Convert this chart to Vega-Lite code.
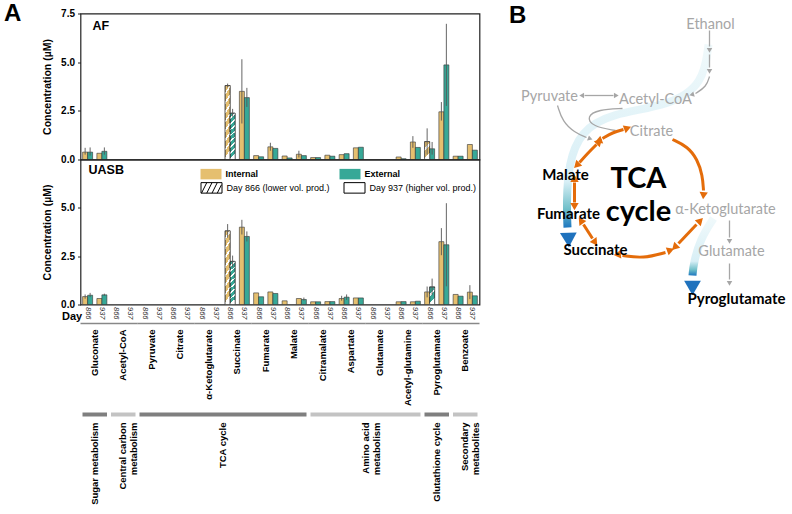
{
"$schema":"https://vega.github.io/schema/vega-lite/v6.json",
"background":"white",
"padding":{"left":3.5,"top":1.5,"right":0,"bottom":0},
"autosize":{"type":"pad"},
"config":{"view":{"stroke":null},"font":"Liberation Sans","title":{"font":"Liberation Sans","color":"#000"},"axis":{"labelFont":"Liberation Sans","titleFont":"Liberation Sans"},"legend":{"labelFont":"Liberation Sans"}},
"title":{"text":"A","anchor":"start","frame":"group","dx":-76.5,"offset":-22.8,"baseline":"top","fontSize":24,"fontWeight":"bold"},
"columns":2,
"spacing":{"row":0,"column":21},
"bounds":"flush",
"resolve":{"scale":{"fill":"independent","shape":"independent","color":"independent"}},
"datasets":{
"bars":[
{"panel":"AF","metabolite":"Gluconate","day":"866","type":"Internal","value":0.38,"lo":0.25,"hi":0.6},
{"panel":"AF","metabolite":"Gluconate","day":"866","type":"External","value":0.38,"lo":0.2,"hi":0.62},
{"panel":"AF","metabolite":"Gluconate","day":"937","type":"Internal","value":0.32},
{"panel":"AF","metabolite":"Gluconate","day":"937","type":"External","value":0.42,"lo":0.25,"hi":0.62},
{"panel":"AF","metabolite":"Succinate","day":"866","type":"Internal","value":3.8,"lo":3.7,"hi":3.9},
{"panel":"AF","metabolite":"Succinate","day":"866","type":"External","value":2.38,"lo":2.2,"hi":2.6},
{"panel":"AF","metabolite":"Succinate","day":"937","type":"Internal","value":3.5,"lo":1.85,"hi":5.15},
{"panel":"AF","metabolite":"Succinate","day":"937","type":"External","value":3.18,"lo":2.7,"hi":3.68},
{"panel":"AF","metabolite":"Fumarate","day":"866","type":"Internal","value":0.2},
{"panel":"AF","metabolite":"Fumarate","day":"866","type":"External","value":0.14},
{"panel":"AF","metabolite":"Fumarate","day":"937","type":"Internal","value":0.65,"lo":0.45,"hi":0.86},
{"panel":"AF","metabolite":"Fumarate","day":"937","type":"External","value":0.57},
{"panel":"AF","metabolite":"Malate","day":"866","type":"Internal","value":0.18},
{"panel":"AF","metabolite":"Malate","day":"866","type":"External","value":0.08},
{"panel":"AF","metabolite":"Malate","day":"937","type":"Internal","value":0.27,"lo":0.1,"hi":0.45},
{"panel":"AF","metabolite":"Malate","day":"937","type":"External","value":0.2},
{"panel":"AF","metabolite":"Citramalate","day":"866","type":"Internal","value":0.1},
{"panel":"AF","metabolite":"Citramalate","day":"866","type":"External","value":0.1},
{"panel":"AF","metabolite":"Citramalate","day":"937","type":"Internal","value":0.22},
{"panel":"AF","metabolite":"Citramalate","day":"937","type":"External","value":0.17},
{"panel":"AF","metabolite":"Aspartate","day":"866","type":"Internal","value":0.25},
{"panel":"AF","metabolite":"Aspartate","day":"866","type":"External","value":0.3},
{"panel":"AF","metabolite":"Aspartate","day":"937","type":"Internal","value":0.6},
{"panel":"AF","metabolite":"Aspartate","day":"937","type":"External","value":0.63},
{"panel":"AF","metabolite":"Acetyl-glutamine","day":"866","type":"Internal","value":0.13},
{"panel":"AF","metabolite":"Acetyl-glutamine","day":"866","type":"External","value":0.04},
{"panel":"AF","metabolite":"Acetyl-glutamine","day":"937","type":"Internal","value":0.9,"lo":0.6,"hi":1.2},
{"panel":"AF","metabolite":"Acetyl-glutamine","day":"937","type":"External","value":0.62},
{"panel":"AF","metabolite":"Pyroglutamate","day":"866","type":"Internal","value":0.92,"lo":0.25,"hi":1.6},
{"panel":"AF","metabolite":"Pyroglutamate","day":"866","type":"External","value":0.55,"lo":0.25,"hi":0.9},
{"panel":"AF","metabolite":"Pyroglutamate","day":"937","type":"Internal","value":2.45,"lo":2.0,"hi":2.95},
{"panel":"AF","metabolite":"Pyroglutamate","day":"937","type":"External","value":4.86,"lo":2.75,"hi":6.97},
{"panel":"AF","metabolite":"Benzoate","day":"866","type":"Internal","value":0.17},
{"panel":"AF","metabolite":"Benzoate","day":"866","type":"External","value":0.17},
{"panel":"AF","metabolite":"Benzoate","day":"937","type":"Internal","value":0.77},
{"panel":"AF","metabolite":"Benzoate","day":"937","type":"External","value":0.48},
{"panel":"UASB","metabolite":"Gluconate","day":"866","type":"Internal","value":0.41,"lo":0.3,"hi":0.52},
{"panel":"UASB","metabolite":"Gluconate","day":"866","type":"External","value":0.48,"lo":0.38,"hi":0.6},
{"panel":"UASB","metabolite":"Gluconate","day":"937","type":"Internal","value":0.31},
{"panel":"UASB","metabolite":"Gluconate","day":"937","type":"External","value":0.5,"lo":0.45,"hi":0.56},
{"panel":"UASB","metabolite":"Succinate","day":"866","type":"Internal","value":3.81,"lo":3.46,"hi":4.16},
{"panel":"UASB","metabolite":"Succinate","day":"866","type":"External","value":2.23,"lo":1.93,"hi":2.53},
{"panel":"UASB","metabolite":"Succinate","day":"937","type":"Internal","value":4.0,"lo":3.62,"hi":4.38},
{"panel":"UASB","metabolite":"Succinate","day":"937","type":"External","value":3.52,"lo":3.26,"hi":3.78},
{"panel":"UASB","metabolite":"Fumarate","day":"866","type":"Internal","value":0.6},
{"panel":"UASB","metabolite":"Fumarate","day":"866","type":"External","value":0.4},
{"panel":"UASB","metabolite":"Fumarate","day":"937","type":"Internal","value":0.65},
{"panel":"UASB","metabolite":"Fumarate","day":"937","type":"External","value":0.57},
{"panel":"UASB","metabolite":"Malate","day":"866","type":"Internal","value":0.19},
{"panel":"UASB","metabolite":"Malate","day":"937","type":"Internal","value":0.31},
{"panel":"UASB","metabolite":"Malate","day":"937","type":"External","value":0.26,"lo":0.2,"hi":0.36},
{"panel":"UASB","metabolite":"Citramalate","day":"866","type":"Internal","value":0.14},
{"panel":"UASB","metabolite":"Citramalate","day":"866","type":"External","value":0.14},
{"panel":"UASB","metabolite":"Citramalate","day":"937","type":"Internal","value":0.15},
{"panel":"UASB","metabolite":"Citramalate","day":"937","type":"External","value":0.15},
{"panel":"UASB","metabolite":"Aspartate","day":"866","type":"Internal","value":0.31,"lo":0.2,"hi":0.45},
{"panel":"UASB","metabolite":"Aspartate","day":"866","type":"External","value":0.38,"lo":0.24,"hi":0.52},
{"panel":"UASB","metabolite":"Aspartate","day":"937","type":"Internal","value":0.34},
{"panel":"UASB","metabolite":"Aspartate","day":"937","type":"External","value":0.34},
{"panel":"UASB","metabolite":"Acetyl-glutamine","day":"866","type":"Internal","value":0.14},
{"panel":"UASB","metabolite":"Acetyl-glutamine","day":"866","type":"External","value":0.15},
{"panel":"UASB","metabolite":"Acetyl-glutamine","day":"937","type":"Internal","value":0.14},
{"panel":"UASB","metabolite":"Acetyl-glutamine","day":"937","type":"External","value":0.17},
{"panel":"UASB","metabolite":"Pyroglutamate","day":"866","type":"Internal","value":0.65,"lo":0.37,"hi":0.93},
{"panel":"UASB","metabolite":"Pyroglutamate","day":"866","type":"External","value":0.91,"lo":0.48,"hi":1.34},
{"panel":"UASB","metabolite":"Pyroglutamate","day":"937","type":"Internal","value":3.25,"lo":2.55,"hi":3.95},
{"panel":"UASB","metabolite":"Pyroglutamate","day":"937","type":"External","value":3.09,"lo":0.94,"hi":5.24},
{"panel":"UASB","metabolite":"Benzoate","day":"866","type":"Internal","value":0.52},
{"panel":"UASB","metabolite":"Benzoate","day":"866","type":"External","value":0.43},
{"panel":"UASB","metabolite":"Benzoate","day":"937","type":"Internal","value":0.64,"lo":0.28,"hi":1.0},
{"panel":"UASB","metabolite":"Benzoate","day":"937","type":"External","value":0.45}
],
"metabs":[{"name":"Gluconate"},{"name":"Acetyl-CoA"},{"name":"Pyruvate"},{"name":"Citrate"},{"name":"α-Ketoglutarate"},{"name":"Succinate"},{"name":"Fumarate"},{"name":"Malate"},{"name":"Citramalate"},{"name":"Aspartate"},{"name":"Glutamate"},{"name":"Acetyl-glutamine"},{"name":"Pyroglutamate"},{"name":"Benzoate"}],
"cats":[
{"category":"Sugar metabolism","label":"Sugar metabolism","start":0,"end":1},
{"category":"Central carbon metabolism","label":"Central carbon\nmetabolism","start":1,"end":2},
{"category":"TCA cycle","label":"TCA cycle","start":2,"end":8},
{"category":"Amino acid metabolism","label":"Amino acid\nmetabolism","start":8,"end":12},
{"category":"Glutathione cycle","label":"Glutathione cycle","start":12,"end":13},
{"category":"Secondary metabolites","label":"Secondary\nmetabolites","start":13,"end":14}
],
"grayText":[{"x":210,"y":11,"t":"Ethanol"},{"x":49,"y":83,"t":"Pyruvate"},{"x":155,"y":86,"t":"Acetyl-CoA"},{"x":151,"y":118,"t":"Citrate"},{"x":225,"y":196,"t":"α-Ketoglutarate"},{"x":231,"y":238,"t":"Glutamate"}],
"blackText":[{"x":65,"y":161,"t":"Malate"},{"x":68,"y":200,"t":"Fumarate"},{"x":95,"y":236,"t":"Succinate"},{"x":236,"y":285,"t":"Pyroglutamate"}],
"bigText":[{"x":138,"y":165,"t":"TCA"},{"x":138,"y":198,"t":"cycle"}],
"orangeLines":[
{"id":"o1","seq":1,"x":172,"y":126},{"id":"o1","seq":2,"x":187,"y":133},{"id":"o1","seq":3,"x":197,"y":146},{"id":"o1","seq":4,"x":202,"y":162},{"id":"o1","seq":5,"x":203,"y":177},
{"id":"o2","seq":1,"x":102,"y":125},{"id":"o2","seq":2,"x":112,"y":119},{"id":"o2","seq":3,"x":123,"y":116},
{"id":"o3","seq":1,"x":96,"y":131},{"id":"o3","seq":2,"x":87,"y":140},{"id":"o3","seq":3,"x":79,"y":149},
{"id":"o4","seq":1,"x":74,"y":169},{"id":"o4","seq":2,"x":74,"y":189},
{"id":"o5","seq":1,"x":83,"y":211},{"id":"o5","seq":2,"x":92,"y":225},
{"id":"o6","seq":1,"x":122,"y":242},{"id":"o6","seq":2,"x":143,"y":245},{"id":"o6","seq":3,"x":165,"y":239},
{"id":"o7","seq":1,"x":178,"y":230},{"id":"o7","seq":2,"x":196,"y":211}
],
"orangeHeads":[
{"x":203,"y":181,"angle":185},
{"x":126,"y":115,"angle":70},{"x":99,"y":127,"angle":250},
{"x":98,"y":129,"angle":45},{"x":77,"y":151,"angle":225},
{"x":74,"y":166,"angle":0},{"x":74,"y":192,"angle":180},
{"x":81,"y":208,"angle":325},{"x":94,"y":228,"angle":145},
{"x":118,"y":241,"angle":265},{"x":169,"y":237,"angle":70},
{"x":175,"y":233,"angle":225},{"x":199,"y":208,"angle":45}
],
"grayLines":[
{"id":"g1","seq":1,"x":209,"y":17},{"id":"g1","seq":2,"x":209,"y":33},
{"id":"g2","seq":1,"x":209,"y":41},{"id":"g2","seq":2,"x":209,"y":54},
{"id":"g3","seq":1,"x":209,"y":63},{"id":"g3","seq":2,"x":206,"y":73},{"id":"g3","seq":3,"x":195,"y":80},
{"id":"g4","seq":1,"x":84,"y":82},{"id":"g4","seq":2,"x":113,"y":82},
{"id":"g5","seq":1,"x":122,"y":95},{"id":"g5","seq":2,"x":98,"y":96},{"id":"g5","seq":3,"x":86,"y":103},{"id":"g5","seq":4,"x":92,"y":113},{"id":"g5","seq":5,"x":115,"y":117},
{"id":"g6","seq":1,"x":57,"y":92},{"id":"g6","seq":2,"x":62,"y":108},{"id":"g6","seq":3,"x":74,"y":119},{"id":"g6","seq":4,"x":86,"y":124},
{"id":"g7","seq":1,"x":229,"y":207},{"id":"g7","seq":2,"x":229,"y":224},
{"id":"g8","seq":1,"x":229,"y":250},{"id":"g8","seq":2,"x":229,"y":266}
],
"grayHeads":[
{"x":209,"y":36,"angle":180},{"x":209,"y":57,"angle":180},{"x":192,"y":81,"angle":255},
{"x":82,"y":82,"angle":270},{"x":115,"y":82,"angle":90},{"x":89,"y":125,"angle":110},
{"x":229,"y":227,"angle":180},{"x":229,"y":269,"angle":180}
],
"blueLines":[
{"id":"b1","seq":1,"x":208,"y":31},{"id":"b1","seq":2,"x":203,"y":70},{"id":"b1","seq":3,"x":170,"y":92},{"id":"b1","seq":4,"x":110,"y":100},{"id":"b1","seq":5,"x":80,"y":118},{"id":"b1","seq":6,"x":68,"y":150},{"id":"b1","seq":7,"x":66,"y":190},{"id":"b1","seq":8,"x":67,"y":214},
{"id":"b2","seq":1,"x":213,"y":205},{"id":"b2","seq":2,"x":200,"y":225},{"id":"b2","seq":3,"x":193,"y":250},{"id":"b2","seq":4,"x":192,"y":262}
],
"blueHeads":[{"x":68,"y":224,"angle":178},{"x":192,"y":272,"angle":180}]
},
"concat":[
{
"width":399,"height":146,
"view":{"stroke":"#222","strokeWidth":1.2},
"title":{"text":"AF","anchor":"start","frame":"group","dx":12,"offset":-24,"baseline":"top","fontSize":12.5,"fontWeight":"bold"},
"data":{"name":"bars"},
"transform":[{"filter":"datum.panel == 'AF'"},{"calculate":"datum.metabolite + '|' + datum.day","as":"slot"}],
"encoding":{
"x":{"field":"slot","type":"nominal","sort":null,"scale":{"domain":["Gluconate|866","Gluconate|937","Acetyl-CoA|866","Acetyl-CoA|937","Pyruvate|866","Pyruvate|937","Citrate|866","Citrate|937","α-Ketoglutarate|866","α-Ketoglutarate|937","Succinate|866","Succinate|937","Fumarate|866","Fumarate|937","Malate|866","Malate|937","Citramalate|866","Citramalate|937","Aspartate|866","Aspartate|937","Glutamate|866","Glutamate|937","Acetyl-glutamine|866","Acetyl-glutamine|937","Pyroglutamate|866","Pyroglutamate|937","Benzoate|866","Benzoate|937"],"paddingInner":0.3,"paddingOuter":0.15},"axis":null},
"xOffset":{"field":"type","type":"nominal","scale":{"domain":["Internal","External"],"paddingInner":0,"paddingOuter":0}}
},
"layer":[
{"mark":{"type":"bar","stroke":"#333","strokeWidth":0.6},
"encoding":{"y":{"field":"value","type":"quantitative","scale":{"domain":[0,7.5],"nice":false},"axis":{"values":[0,2.5,5,7.5],"format":".1f","title":"Concentration (µM)","titleFontSize":10.5,"titleFontWeight":"bold","titleColor":"#000","titlePadding":8,"labelFontSize":10,"labelFontWeight":"bold","labelColor":"#000","tickSize":3,"tickColor":"#222","labelPadding":3,"domain":false,"grid":false}},
"fill":{"field":"type","type":"nominal","scale":{"domain":["Internal","External"],"range":["#E5BF6F","#37A897"]},"legend":null}}},
{"transform":[{"filter":"datum.day == '866' && datum.value >= 2"}],
"mark":{"type":"bar","stroke":"#333","strokeWidth":0.6,"fill":{"gradient":"linear","x1":0,"y1":0,"x2":0.1,"y2":1,"stops":[{"offset":0,"color":"rgba(255,255,255,0)"},{"offset":0.0875,"color":"rgba(255,255,255,0)"},{"offset":0.0875,"color":"#fff"},{"offset":0.125,"color":"#fff"},{"offset":0.125,"color":"rgba(255,255,255,0)"},{"offset":0.2125,"color":"rgba(255,255,255,0)"},{"offset":0.2125,"color":"#fff"},{"offset":0.25,"color":"#fff"},{"offset":0.25,"color":"rgba(255,255,255,0)"},{"offset":0.3375,"color":"rgba(255,255,255,0)"},{"offset":0.3375,"color":"#fff"},{"offset":0.375,"color":"#fff"},{"offset":0.375,"color":"rgba(255,255,255,0)"},{"offset":0.4625,"color":"rgba(255,255,255,0)"},{"offset":0.4625,"color":"#fff"},{"offset":0.5,"color":"#fff"},{"offset":0.5,"color":"rgba(255,255,255,0)"},{"offset":0.5875,"color":"rgba(255,255,255,0)"},{"offset":0.5875,"color":"#fff"},{"offset":0.625,"color":"#fff"},{"offset":0.625,"color":"rgba(255,255,255,0)"},{"offset":0.7125,"color":"rgba(255,255,255,0)"},{"offset":0.7125,"color":"#fff"},{"offset":0.75,"color":"#fff"},{"offset":0.75,"color":"rgba(255,255,255,0)"},{"offset":0.8375,"color":"rgba(255,255,255,0)"},{"offset":0.8375,"color":"#fff"},{"offset":0.875,"color":"#fff"},{"offset":0.875,"color":"rgba(255,255,255,0)"},{"offset":0.9625,"color":"rgba(255,255,255,0)"},{"offset":0.9625,"color":"#fff"},{"offset":1,"color":"#fff"}]}},
"encoding":{"y":{"field":"value","type":"quantitative"}}},
{"transform":[{"filter":"datum.day == '866' && datum.value >= 0.85 && datum.value < 2"}],
"mark":{"type":"bar","stroke":"#333","strokeWidth":0.6,"fill":{"gradient":"linear","x1":0,"y1":0,"x2":0.3,"y2":1,"stops":[{"offset":0,"color":"rgba(255,255,255,0)"},{"offset":0.35,"color":"rgba(255,255,255,0)"},{"offset":0.35,"color":"#fff"},{"offset":0.5,"color":"#fff"},{"offset":0.5,"color":"rgba(255,255,255,0)"},{"offset":0.85,"color":"rgba(255,255,255,0)"},{"offset":0.85,"color":"#fff"},{"offset":1,"color":"#fff"}]}},
"encoding":{"y":{"field":"value","type":"quantitative"}}},
{"transform":[{"filter":"isValid(datum.lo)"}],
"mark":{"type":"rule","color":"#555","strokeWidth":0.9},
"encoding":{"y":{"field":"lo","type":"quantitative"},"y2":{"field":"hi"}}}
]
},
{
"width":292,"height":146,
"title":{"text":"B","anchor":"start","frame":"group","dx":8.5,"offset":-14,"baseline":"top","fontSize":24,"fontWeight":"bold"},
"encoding":{"x":{"field":"x","type":"quantitative","scale":{"domain":[0,292],"nice":false,"zero":false},"axis":null},"y":{"field":"y","type":"quantitative","scale":{"domain":[0,146],"nice":false,"zero":false,"reverse":true},"axis":null}},
"layer":[
{"data":{"name":"blueLines"},"mark":{"type":"line","interpolate":"basis","strokeWidth":8,"strokeCap":"butt","stroke":{"gradient":"linear","x1":0,"y1":0,"x2":0,"y2":1,"stops":[{"offset":0,"color":"#F0F9FB"},{"offset":0.75,"color":"#D8EFF6"},{"offset":0.9,"color":"#6FBFC9"},{"offset":1,"color":"#1F78C0"}]}},"encoding":{"detail":{"field":"id"},"order":{"field":"seq"}}},
{"data":{"name":"blueHeads"},"mark":{"type":"point","shape":"triangle","filled":true,"size":280,"color":"#1F72BD","opacity":1},"encoding":{"angle":{"field":"angle","type":"quantitative","scale":null}}},
{"data":{"name":"grayLines"},"mark":{"type":"line","interpolate":"basis","strokeWidth":1.3,"color":"#A6A6A6"},"encoding":{"detail":{"field":"id"},"order":{"field":"seq"}}},
{"data":{"name":"grayHeads"},"mark":{"type":"point","shape":"triangle","filled":true,"size":30,"color":"#A6A6A6","opacity":1},"encoding":{"angle":{"field":"angle","type":"quantitative","scale":null}}},
{"data":{"name":"orangeLines"},"mark":{"type":"line","interpolate":"basis","strokeWidth":3,"color":"#E46C0A"},"encoding":{"detail":{"field":"id"},"order":{"field":"seq"}}},
{"data":{"name":"orangeHeads"},"mark":{"type":"point","shape":"triangle","filled":true,"size":70,"color":"#E46C0A","opacity":1},"encoding":{"angle":{"field":"angle","type":"quantitative","scale":null}}},
{"data":{"name":"grayText"},"mark":{"type":"text","font":"Lato","fontSize":14.5,"color":"#A6A6A6","align":"center","baseline":"middle"},"encoding":{"text":{"field":"t"}}},
{"data":{"name":"blackText"},"mark":{"type":"text","font":"Lato","fontSize":15,"fontWeight":"bold","color":"#000","align":"center","baseline":"middle"},"encoding":{"text":{"field":"t"}}},
{"data":{"name":"bigText"},"mark":{"type":"text","font":"Lato","fontSize":29,"fontWeight":"bold","color":"#000","align":"center","baseline":"middle"},"encoding":{"text":{"field":"t"}}}
]
},
{
"width":399,"height":145,
"view":{"stroke":"#222","strokeWidth":1.2},
"title":{"text":"UASB","anchor":"start","frame":"group","dx":8,"offset":-17,"baseline":"top","fontSize":12.5,"fontWeight":"bold"},
"data":{"name":"bars"},
"transform":[{"filter":"datum.panel == 'UASB'"},{"calculate":"datum.metabolite + '|' + datum.day","as":"slot"}],
"encoding":{
"x":{"field":"slot","type":"nominal","sort":null,"scale":{"domain":["Gluconate|866","Gluconate|937","Acetyl-CoA|866","Acetyl-CoA|937","Pyruvate|866","Pyruvate|937","Citrate|866","Citrate|937","α-Ketoglutarate|866","α-Ketoglutarate|937","Succinate|866","Succinate|937","Fumarate|866","Fumarate|937","Malate|866","Malate|937","Citramalate|866","Citramalate|937","Aspartate|866","Aspartate|937","Glutamate|866","Glutamate|937","Acetyl-glutamine|866","Acetyl-glutamine|937","Pyroglutamate|866","Pyroglutamate|937","Benzoate|866","Benzoate|937"],"paddingInner":0.3,"paddingOuter":0.15},
"axis":{"orient":"bottom","labelExpr":"split(datum.label, '|')[1]","labelAngle":90,"labelAlign":"left","labelBaseline":"middle","labelFontSize":7.5,"labelFontStyle":"italic","labelColor":"#333","labelOverlap":false,"labelPadding":2,"ticks":false,"domain":false,"title":"Day","titleX":-19,"titleY":15,"titleAlign":"left","titleAngle":0,"titleBaseline":"alphabetic","titleFontSize":11,"titleFontWeight":"bold","titleColor":"#000"}},
"xOffset":{"field":"type","type":"nominal","scale":{"domain":["Internal","External"],"paddingInner":0,"paddingOuter":0}}
},
"layer":[
{"mark":{"type":"bar","stroke":"#333","strokeWidth":0.6},
"encoding":{"y":{"field":"value","type":"quantitative","scale":{"domain":[0,7.5],"nice":false},"axis":{"values":[0,2.5,5],"format":".1f","title":"Concentration (µM)","titleFontSize":10.5,"titleFontWeight":"bold","titleColor":"#000","titlePadding":8,"labelFontSize":10,"labelFontWeight":"bold","labelColor":"#000","tickSize":3,"tickColor":"#222","labelPadding":3,"domain":false,"grid":false}},
"fill":{"field":"type","type":"nominal","scale":{"domain":["Internal","External"],"range":["#E5BF6F","#37A897"]},
"legend":{"orient":"none","legendX":120,"legendY":4,"direction":"horizontal","columns":2,"columnPadding":81,"title":null,"padding":0,"symbolType":"M-1,-0.5H1V0.5H-1Z","symbolSize":441,"symbolStrokeWidth":0,"labelFontSize":9,"labelFontWeight":"bold","labelColor":"#000","labelOffset":4}}}},
{"transform":[{"filter":"datum.day == '866' && datum.value >= 2"}],
"mark":{"type":"bar","stroke":"#333","strokeWidth":0.6,"fill":{"gradient":"linear","x1":0,"y1":0,"x2":0.1,"y2":1,"stops":[{"offset":0,"color":"rgba(255,255,255,0)"},{"offset":0.0875,"color":"rgba(255,255,255,0)"},{"offset":0.0875,"color":"#fff"},{"offset":0.125,"color":"#fff"},{"offset":0.125,"color":"rgba(255,255,255,0)"},{"offset":0.2125,"color":"rgba(255,255,255,0)"},{"offset":0.2125,"color":"#fff"},{"offset":0.25,"color":"#fff"},{"offset":0.25,"color":"rgba(255,255,255,0)"},{"offset":0.3375,"color":"rgba(255,255,255,0)"},{"offset":0.3375,"color":"#fff"},{"offset":0.375,"color":"#fff"},{"offset":0.375,"color":"rgba(255,255,255,0)"},{"offset":0.4625,"color":"rgba(255,255,255,0)"},{"offset":0.4625,"color":"#fff"},{"offset":0.5,"color":"#fff"},{"offset":0.5,"color":"rgba(255,255,255,0)"},{"offset":0.5875,"color":"rgba(255,255,255,0)"},{"offset":0.5875,"color":"#fff"},{"offset":0.625,"color":"#fff"},{"offset":0.625,"color":"rgba(255,255,255,0)"},{"offset":0.7125,"color":"rgba(255,255,255,0)"},{"offset":0.7125,"color":"#fff"},{"offset":0.75,"color":"#fff"},{"offset":0.75,"color":"rgba(255,255,255,0)"},{"offset":0.8375,"color":"rgba(255,255,255,0)"},{"offset":0.8375,"color":"#fff"},{"offset":0.875,"color":"#fff"},{"offset":0.875,"color":"rgba(255,255,255,0)"},{"offset":0.9625,"color":"rgba(255,255,255,0)"},{"offset":0.9625,"color":"#fff"},{"offset":1,"color":"#fff"}]}},
"encoding":{"y":{"field":"value","type":"quantitative"}}},
{"transform":[{"filter":"datum.day == '866' && datum.value >= 0.85 && datum.value < 2"}],
"mark":{"type":"bar","stroke":"#333","strokeWidth":0.6,"fill":{"gradient":"linear","x1":0,"y1":0,"x2":0.3,"y2":1,"stops":[{"offset":0,"color":"rgba(255,255,255,0)"},{"offset":0.35,"color":"rgba(255,255,255,0)"},{"offset":0.35,"color":"#fff"},{"offset":0.5,"color":"#fff"},{"offset":0.5,"color":"rgba(255,255,255,0)"},{"offset":0.85,"color":"rgba(255,255,255,0)"},{"offset":0.85,"color":"#fff"},{"offset":1,"color":"#fff"}]}},
"encoding":{"y":{"field":"value","type":"quantitative"}}},
{"transform":[{"filter":"isValid(datum.lo)"}],
"mark":{"type":"rule","color":"#555","strokeWidth":0.9},
"encoding":{"y":{"field":"lo","type":"quantitative"},"y2":{"field":"hi"}}},
{"transform":[{"filter":"false"}],
"mark":{"type":"point","color":"black","opacity":1,"filled":false},
"encoding":{"shape":{"field":"day","type":"nominal","scale":{"domain":["866","937"],"range":["M-1,-0.5H1V0.5H-1Z M-0.95,0.5L-0.45,-0.5 M-0.45,0.5L0.05,-0.5 M0.05,0.5L0.55,-0.5 M0.55,0.5L0.95,-0.3","M-1,-0.5H1V0.5H-1Z"]},
"legend":{"orient":"none","legendX":120,"legendY":17,"direction":"horizontal","columns":2,"columnPadding":11,"title":null,"padding":0,"symbolSize":441,"symbolStrokeColor":"black","symbolStrokeWidth":1,"labelFontSize":9,"labelColor":"#000","labelOffset":4,"labelExpr":"'Day ' + datum.label + (datum.label == '866' ? ' (lower vol. prod.)' : ' (higher vol. prod.)')"}}}}
]
},
{
"width":1,"height":1,
"data":{"values":[]},
"mark":{"type":"text"}
},
{
"width":399,"height":38,
"data":{"name":"metabs"},
"encoding":{"x":{"field":"name","type":"nominal","sort":null,"scale":{"paddingInner":0,"paddingOuter":0},"axis":null}},
"layer":[
{"mark":{"type":"tick","orient":"horizontal","bandSize":25,"thickness":1.5,"color":"#555"}},
{"mark":{"type":"text","angle":270,"align":"right","baseline":"middle","fontSize":9.5,"fontWeight":"bold","color":"#000","yOffset":6},"encoding":{"text":{"field":"name"}}}
]
},
{
"width":1,"height":1,
"data":{"values":[]},
"mark":{"type":"text"}
},
{
"width":399,"height":144,
"data":{"name":"cats"},
"transform":[{"calculate":"(datum.start + datum.end) / 2","as":"mid"}],
"layer":[
{"mark":{"type":"rule","strokeWidth":4,"xOffset":2,"x2Offset":-2},
"encoding":{"x":{"field":"start","type":"quantitative","scale":{"domain":[0,14],"nice":false,"zero":false},"axis":null},"x2":{"field":"end"},
"color":{"field":"category","type":"nominal","scale":{"domain":["Sugar metabolism","Central carbon metabolism","TCA cycle","Amino acid metabolism","Glutathione cycle","Secondary metabolites"],"range":["#7F7F7F","#C3C3C3","#7F7F7F","#C3C3C3","#7F7F7F","#C3C3C3"]},"legend":null}}},
{"mark":{"type":"text","angle":270,"align":"right","baseline":"middle","fontSize":9.5,"fontWeight":"bold","color":"#000","lineBreak":"\n","lineHeight":11,"yOffset":8},
"encoding":{"x":{"field":"mid","type":"quantitative"},"text":{"field":"label"}}}
]
}
]
}
